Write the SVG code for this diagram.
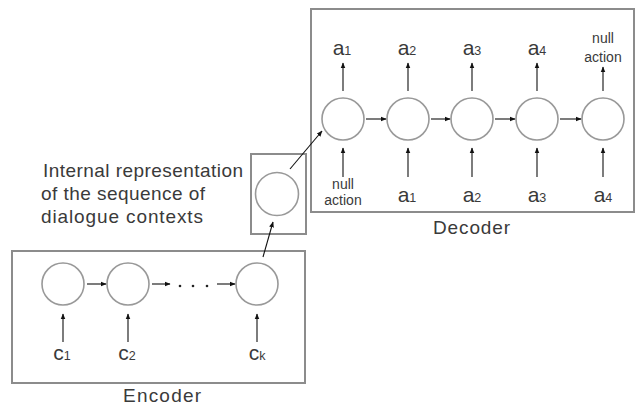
<svg xmlns="http://www.w3.org/2000/svg" width="641" height="405" viewBox="0 0 641 405">
<style>
.box{fill:none;stroke:#8c8c8c;stroke-width:2}
.cell{fill:#fff;stroke:#999;stroke-width:1.6}
.arr{stroke:#111;stroke-width:1.1;fill:none;marker-end:url(#ah)}
.t{font-family:"Liberation Sans",Arial,sans-serif;fill:#3a3a3a}
.lbl{font-size:19px}
.sym{font-size:21px;text-anchor:middle}
.sub{font-size:12.5px}
.sm{font-size:14px;text-anchor:middle}
.dot{fill:#222}
</style>
<defs>
<marker id="ah" viewBox="0 0 10 10" refX="9" refY="5" markerWidth="6" markerHeight="6" markerUnits="userSpaceOnUse" orient="auto">
<path d="M0,1 L10,5 L0,9 z" fill="#111"/>
</marker>
</defs>
<rect width="641" height="405" fill="#fff"/>

<g id="encoder">
<rect class="box" x="12" y="251" width="293" height="132"/>
<text class="t lbl" x="123" y="402" textLength="78" lengthAdjust="spacing">Encoder</text>
</g>
<g id="enc-c1"><circle class="cell" cx="63" cy="284" r="21"/></g>
<g id="enc-c2"><circle class="cell" cx="128" cy="284" r="21"/></g>
<g id="enc-ck"><circle class="cell" cx="257" cy="284" r="21"/></g>
<g id="enc-dots">
<circle class="dot" cx="180" cy="286" r="1.3"/>
<circle class="dot" cx="193" cy="286" r="1.3"/>
<circle class="dot" cx="207" cy="286" r="1.3"/>
</g>
<g id="enc-inputs">
<text class="t sym" x="62" y="360">c<tspan class="sub">1</tspan></text>
<text class="t sym" x="127" y="360">c<tspan class="sub">2</tspan></text>
<text class="t sym" x="257" y="360">c<tspan class="sub">k</tspan></text>
</g>

<g id="internal">
<rect class="box" x="251" y="154" width="55" height="80"/>
<circle class="cell" cx="277" cy="194" r="21.5"/>
</g>
<g id="internal-label">
<text class="t lbl" x="43" y="177" textLength="200" lengthAdjust="spacing">Internal representation</text>
<text class="t lbl" x="41" y="200" textLength="164" lengthAdjust="spacing">of the sequence of</text>
<text class="t lbl" x="41" y="223" textLength="162" lengthAdjust="spacing">dialogue contexts</text>
</g>

<g id="decoder">
<rect class="box" x="311" y="9" width="323" height="203"/>
<text class="t lbl" x="433" y="234" textLength="77" lengthAdjust="spacing">Decoder</text>
</g>
<g id="dec-1"><circle class="cell" cx="343" cy="119" r="21"/></g>
<g id="dec-2"><circle class="cell" cx="408" cy="119" r="21"/></g>
<g id="dec-3"><circle class="cell" cx="472" cy="119" r="21"/></g>
<g id="dec-4"><circle class="cell" cx="537" cy="119" r="21"/></g>
<g id="dec-5"><circle class="cell" cx="603" cy="119" r="21"/></g>

<g id="dec-outputs">
<text class="t sym" x="342" y="55">a<tspan class="sub">1</tspan></text>
<text class="t sym" x="407" y="55">a<tspan class="sub">2</tspan></text>
<text class="t sym" x="472" y="55">a<tspan class="sub">3</tspan></text>
<text class="t sym" x="537" y="55">a<tspan class="sub">4</tspan></text>
<text class="t sm" x="603" y="43">null</text>
<text class="t sm" x="603" y="62">action</text>
</g>
<g id="dec-inputs">
<text class="t sm" x="343" y="189">null</text>
<text class="t sm" x="343" y="205">action</text>
<text class="t sym" x="407" y="202">a<tspan class="sub">1</tspan></text>
<text class="t sym" x="472" y="202">a<tspan class="sub">2</tspan></text>
<text class="t sym" x="537" y="202">a<tspan class="sub">3</tspan></text>
<text class="t sym" x="603" y="202">a<tspan class="sub">4</tspan></text>
</g>

<g id="connectors">
<line class="arr" x1="63" y1="342" x2="63" y2="314"/>
<line class="arr" x1="128" y1="342" x2="128" y2="314"/>
<line class="arr" x1="257" y1="342" x2="257" y2="314"/>
<line class="arr" x1="87" y1="284" x2="106" y2="284"/>
<line class="arr" x1="152" y1="284" x2="170" y2="284"/>
<line class="arr" x1="217" y1="284" x2="235" y2="284"/>
<line class="arr" x1="263" y1="257" x2="273" y2="222"/>
<line class="arr" x1="290" y1="169" x2="322" y2="131"/>
<line class="arr" x1="366" y1="119" x2="386" y2="119"/>
<line class="arr" x1="431" y1="119" x2="450" y2="119"/>
<line class="arr" x1="495" y1="119" x2="515" y2="119"/>
<line class="arr" x1="560" y1="119" x2="581" y2="119"/>
<line class="arr" x1="343" y1="91" x2="343" y2="63"/>
<line class="arr" x1="408" y1="91" x2="408" y2="63"/>
<line class="arr" x1="472" y1="91" x2="472" y2="63"/>
<line class="arr" x1="537" y1="91" x2="537" y2="63"/>
<line class="arr" x1="603" y1="91" x2="603" y2="67"/>
<line class="arr" x1="343" y1="177" x2="343" y2="148"/>
<line class="arr" x1="408" y1="177" x2="408" y2="148"/>
<line class="arr" x1="472" y1="177" x2="472" y2="148"/>
<line class="arr" x1="537" y1="177" x2="537" y2="148"/>
<line class="arr" x1="603" y1="177" x2="603" y2="148"/>
</g>
</svg>
